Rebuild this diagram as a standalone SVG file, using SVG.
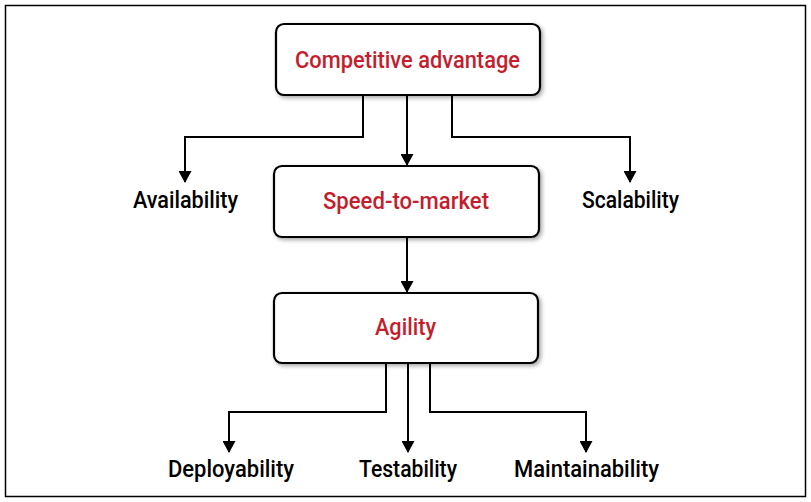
<svg xmlns="http://www.w3.org/2000/svg" width="811" height="502" viewBox="0 0 811 502">
<style>
.box{fill:#fff;stroke:#000;stroke-width:2.2;filter:url(#sh)}
.red{fill:#c41e2e;font-family:"Roboto","Liberation Sans",sans-serif;font-weight:500;font-size:23px;text-anchor:middle}
.blk{fill:#000;font-family:"Roboto","Liberation Sans",sans-serif;font-weight:500;font-size:23px;text-anchor:middle}
.ln{fill:none;stroke:#000;stroke-width:2;marker-end:url(#ah)}
</style>
<defs>
<filter id="sh" x="-10%" y="-20%" width="125%" height="150%">
<feDropShadow dx="2" dy="2" stdDeviation="2" flood-color="#000" flood-opacity="0.35"/>
</filter>
<marker id="ah" markerWidth="13" markerHeight="13" refX="11" refY="6.5" orient="auto" markerUnits="userSpaceOnUse">
<path d="M0,0 L12,6.5 L0,13 Z" fill="#000"/>
</marker>
</defs>
<rect x="5.5" y="5.5" width="800" height="491" fill="#fff" stroke="#000" stroke-width="1.5"/>
<g id="connectors">
<path class="ln" d="M363,95 V137 H185 V182"/>
<path class="ln" d="M407,95 V165"/>
<path class="ln" d="M452,95 V137 H630 V182"/>
<path class="ln" d="M407,237 V292"/>
<path class="ln" d="M386,363 V412 H229 V452"/>
<path class="ln" d="M408,363 V452"/>
<path class="ln" d="M430,363 V412 H586 V452"/>
</g>
<g id="competitive-advantage">
<rect class="box" x="276" y="24" width="264" height="71" rx="8"/>
<text class="red" x="407.5" y="68" textLength="225" lengthAdjust="spacingAndGlyphs">Competitive advantage</text>
</g>
<g id="speed-to-market">
<rect class="box" x="274" y="166" width="265" height="71" rx="8"/>
<text class="red" x="406" y="209" textLength="166" lengthAdjust="spacingAndGlyphs">Speed-to-market</text>
</g>
<g id="agility">
<rect class="box" x="274" y="293" width="264" height="70" rx="8"/>
<text class="red" x="405.5" y="335" textLength="61" lengthAdjust="spacingAndGlyphs">Agility</text>
</g>
<g id="availability"><text class="blk" x="185.5" y="208" textLength="105" lengthAdjust="spacingAndGlyphs">Availability</text></g>
<g id="scalability"><text class="blk" x="630.5" y="208" textLength="97" lengthAdjust="spacingAndGlyphs">Scalability</text></g>
<g id="deployability"><text class="blk" x="231" y="477" textLength="126" lengthAdjust="spacingAndGlyphs">Deployability</text></g>
<g id="testability"><text class="blk" x="408" y="477" textLength="98" lengthAdjust="spacingAndGlyphs">Testability</text></g>
<g id="maintainability"><text class="blk" x="586.5" y="477" textLength="145" lengthAdjust="spacingAndGlyphs">Maintainability</text></g>
</svg>
